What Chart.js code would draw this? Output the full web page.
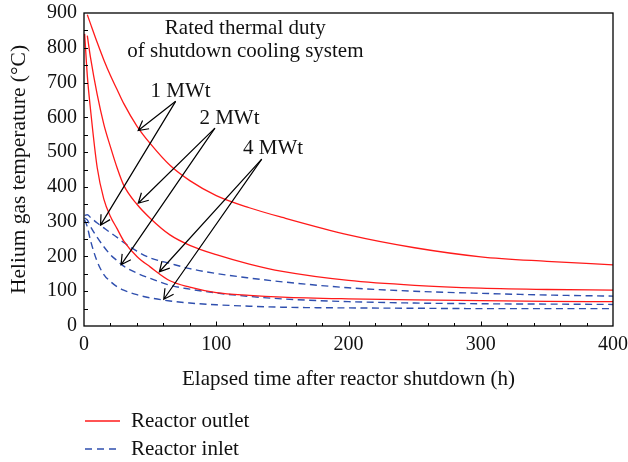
<!DOCTYPE html>
<html>
<head>
<meta charset="utf-8">
<script src="https://cdn.jsdelivr.net/npm/chart.js@4.4.0/dist/chart.umd.min.js"></script>
<style>
  html, body { margin: 0; padding: 0; background: #fff; }
  #wrap { width: 628px; height: 462px; }
</style>
</head>
<body>
<div id="wrap"><canvas id="chart"></canvas></div>
<script>
// elapsed time after shutdown (h)
const hours = [0.5, 2.5, 5, 10, 15, 20, 25, 30, 40, 50, 65, 80, 100, 125, 150, 200, 250, 300, 350, 400];

// reactor outlet (deg C) per rated thermal duty
const outlet1MW = [null, 895, 868, 815, 765, 720, 680, 640, 575, 525, 462, 418, 375, 340, 312, 262, 225, 199, 186, 176];
const outlet2MW = [null, 835, 770, 665, 580, 515, 455, 405, 350, 310, 262, 232, 205, 178, 157, 131, 117, 109, 105, 103];
const outlet4MW = [840, 720, 620, 455, 365, 315, 280, 245, 200, 170, 130, 112, 96, 88, 83, 78, 75, 73, 71, 70];

// reactor inlet (deg C)
const inlet1MW = [318, 320, 312, 296, 282, 268, 255, 240, 215, 196, 180, 165, 151, 138, 127, 110, 100, 94, 89, 86];
const inlet2MW = [310, 305, 285, 255, 228, 205, 188, 172, 152, 137, 117, 106, 95, 85, 78, 70, 66, 64, 63, 62];
const inlet4MW = [305, 285, 245, 185, 148, 128, 113, 103, 90, 81, 72, 66, 61, 57, 54, 52, 51, 50, 50, 50];

const xTicks = [0, 100, 200, 300, 400];
const yTicks = [0, 100, 200, 300, 400, 500, 600, 700, 800, 900];

// annotation callouts: label, line origin and arrow targets (data units)
const callouts = [
  { text: '1 MWt', at: [73, 674], from: [69.3, 646], to: [[41, 562], [12.5, 290]] },
  { text: '2 MWt', at: [110, 596], from: [99, 569], to: [[41, 353], [28, 176]] },
  { text: '4 MWt', at: [143, 510], from: [134.4, 480], to: [[57, 156], [60.3, 77]] }
];
const noteLines = ['Rated thermal duty', 'of shutdown cooling system'];

const RED = '#ff1a1a';
const BLUE = '#2f4fae';
const FONT = '"Liberation Serif", "DejaVu Serif", serif';

function pts(values) {
  const out = [];
  values.forEach((v, i) => { if (v !== null) out.push({ x: hours[i], y: v }); });
  return out;
}

function outletSet(label, values) {
  return { label, data: pts(values), borderColor: RED, borderWidth: 1.3, pointRadius: 0,
           cubicInterpolationMode: 'monotone', fill: false };
}
function inletSet(label, values) {
  return { label, data: pts(values), borderColor: BLUE, borderWidth: 1.4, pointRadius: 0,
           borderDash: [7, 4.5], cubicInterpolationMode: 'monotone', fill: false };
}

/* ── frame, inward ticks, callouts, legend ───────────────────────────── */
const decor = {
  id: 'decor',
  afterDatasetsDraw(chart) {
    const { ctx, chartArea: a, scales: { x, y } } = chart;
    ctx.save();

    // frame
    ctx.strokeStyle = '#000';
    ctx.lineWidth = 1.3;
    ctx.strokeRect(a.left, a.top, a.right - a.left, a.bottom - a.top);

    // inward ticks
    ctx.lineWidth = 1;
    ctx.beginPath();
    for (let v = 20; v < 400; v += 20) {
      const px = Math.round(x.getPixelForValue(v)) + 0.5;
      const len = v % 100 === 0 ? 4.5 : 3;
      ctx.moveTo(px, a.bottom);
      ctx.lineTo(px, a.bottom - len);
    }
    for (let v = 50; v < 900; v += 50) {
      const py = Math.round(y.getPixelForValue(v)) + 0.5;
      ctx.moveTo(a.left, py);
      ctx.lineTo(a.left + 4, py);
    }
    ctx.stroke();

    // callout arrows
    ctx.lineWidth = 1.2;
    ctx.strokeStyle = '#000';
    callouts.forEach(c => {
      const fx = x.getPixelForValue(c.from[0]);
      const fy = y.getPixelForValue(c.from[1]);
      c.to.forEach(t => {
        const tx = x.getPixelForValue(t[0]);
        const ty = y.getPixelForValue(t[1]);
        const ang = Math.atan2(ty - fy, tx - fx);
        ctx.beginPath();
        ctx.moveTo(fx, fy);
        ctx.lineTo(tx, ty);
        const hl = 11, hw = 0.5;
        ctx.moveTo(tx - hl * Math.cos(ang - hw), ty - hl * Math.sin(ang - hw));
        ctx.lineTo(tx, ty);
        ctx.lineTo(tx - hl * Math.cos(ang + hw), ty - hl * Math.sin(ang + hw));
        ctx.stroke();
      });
    });

    // texts
    ctx.fillStyle = '#111';
    ctx.font = '21px ' + FONT;
    ctx.textAlign = 'center';
    ctx.textBaseline = 'middle';
    callouts.forEach(c => {
      ctx.fillText(c.text, x.getPixelForValue(c.at[0]), y.getPixelForValue(c.at[1]));
    });
    ctx.fillText(noteLines[0], x.getPixelForValue(122), y.getPixelForValue(856));
    ctx.fillText(noteLines[1], x.getPixelForValue(122), y.getPixelForValue(789));

    // legend
    const rows = [
      { text: 'Reactor outlet', color: RED, dash: [], width: 1.3 },
      { text: 'Reactor inlet', color: BLUE, dash: [7, 5], width: 1.4 }
    ];
    ctx.textAlign = 'left';
    rows.forEach((r, i) => {
      const ly = 421 + i * 28;
      ctx.strokeStyle = r.color;
      ctx.lineWidth = r.width;
      ctx.setLineDash(r.dash);
      ctx.beginPath();
      ctx.moveTo(85, ly);
      ctx.lineTo(120, ly);
      ctx.stroke();
      ctx.setLineDash([]);
      ctx.fillText(r.text, 131, ly);
    });

    ctx.restore();
  }
};

const tickFont = { family: FONT, size: 20 };
const titleFont = { family: FONT, size: 21 };

new Chart(document.getElementById('chart'), {
  type: 'line',
  data: {
    datasets: [
      outletSet('Outlet 1 MWt', outlet1MW),
      outletSet('Outlet 2 MWt', outlet2MW),
      outletSet('Outlet 4 MWt', outlet4MW),
      inletSet('Inlet 1 MWt', inlet1MW),
      inletSet('Inlet 2 MWt', inlet2MW),
      inletSet('Inlet 4 MWt', inlet4MW)
    ]
  },
  options: {
    responsive: true,
    maintainAspectRatio: false,
    animation: false,
    layout: { padding: { left: 0, right: 15, top: 13, bottom: 66 } },
    plugins: { legend: { display: false }, tooltip: { enabled: false } },
    scales: {
      x: {
        type: 'linear', min: 0, max: 400,
        afterBuildTicks: s => { s.ticks = xTicks.map(v => ({ value: v })); },
        afterFit: s => { s.height = 70; s.paddingLeft = 0; s.paddingRight = 0; },
        ticks: { color: '#111', font: tickFont, padding: 7, maxRotation: 0 },
        grid: { display: false, drawTicks: false },
        border: { display: false },
        title: { display: true, text: 'Elapsed time after reactor shutdown (h)', color: '#111',
                 font: titleFont, padding: { top: 0, bottom: 4 } }
      },
      y: {
        min: 0, max: 900,
        afterBuildTicks: s => { s.ticks = yTicks.map(v => ({ value: v })); },
        afterFit: s => { s.width = 84; s.paddingTop = 0; s.paddingBottom = 0; },
        ticks: { color: '#111', font: tickFont, padding: 7 },
        grid: { display: false, drawTicks: false },
        border: { display: false },
        title: { display: true, text: 'Helium gas temperature (\u00b0C)', color: '#111',
                 font: { family: FONT, size: 21.5 }, padding: { top: 6, bottom: 0 } }
      }
    }
  },
  plugins: [decor]
});
</script>
</body>
</html>
